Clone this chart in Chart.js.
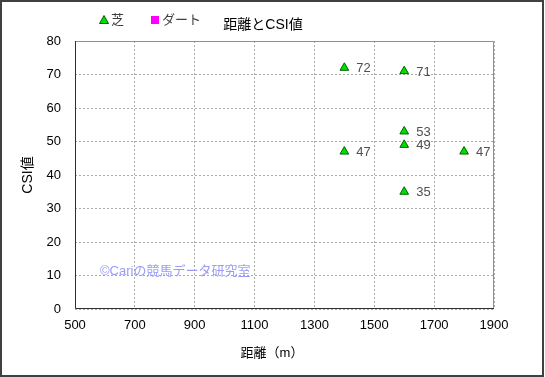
<!DOCTYPE html>
<html>
<head>
<meta charset="utf-8">
<script src="https://cdn.jsdelivr.net/npm/chart.js@4"></script>
<style>
  html, body { margin: 0; padding: 0; background: #fff; }
  canvas { display: block; }
</style>
</head>
<body>
<canvas id="myChart" width="545" height="377"></canvas>
<script>
// data
var distance = [1400, 1400, 1600, 1600, 1600, 1600, 1800];
var csi = [72, 47, 71, 53, 49, 35, 47];
var xTicks = [500, 700, 900, 1100, 1300, 1500, 1700, 1900];
var yTicks = [0, 10, 20, 30, 40, 50, 60, 70, 80];
var seriesNames = ["芝", "ダート"];

var FONT = "'Liberation Sans', 'Noto Sans CJK JP', sans-serif";

var turfPoints = distance.map(function (d, i) { return { x: d, y: csi[i] }; });

/*---------------extra drawing-------------------------- */
var decor = {
    id: 'decor',
    beforeDraw: function (chart) {
        var c = chart.ctx;
        c.save();
        c.fillStyle = '#fff';
        c.fillRect(0, 0, chart.width, chart.height);
        c.restore();
    },
    afterDatasetsDraw: function (chart) {
        var c = chart.ctx;
        var a = chart.chartArea;
        c.save();
        // plot frame: top/right gray, left/bottom dark
        c.lineWidth = 1;
        c.strokeStyle = '#909090';
        c.beginPath();
        c.moveTo(a.left, a.top + 0.5);
        c.lineTo(a.right - 0.5, a.top + 0.5);
        c.lineTo(a.right - 0.5, a.bottom);
        c.stroke();
        c.strokeStyle = '#303030';
        c.beginPath();
        c.moveTo(a.left + 0.5, a.top);
        c.lineTo(a.left + 0.5, a.bottom - 0.5);
        c.lineTo(a.right, a.bottom - 0.5);
        c.stroke();

        // value labels next to each point
        var meta = chart.getDatasetMeta(0);
        c.font = '13px ' + FONT;
        c.fillStyle = '#505050';
        c.textAlign = 'left';
        c.textBaseline = 'middle';
        meta.data.forEach(function (el, i) {
            c.fillText(String(csi[i]), el.x + 12, el.y + 1);
        });

        // watermark
        c.font = '13px ' + FONT;
        c.fillStyle = '#9c9cf4';
        c.fillText('©Cariの競馬データ研究室', 100, 271);

        // title
        c.font = '14px ' + FONT;
        c.fillStyle = '#000';
        c.textAlign = 'center';
        c.fillText('距離とCSI値', 263, 25);

        // x axis title
        c.font = '13px ' + FONT;
        c.fillText('距離（m）', 272, 353);

        // legend
        c.textAlign = 'left';
        var ds = chart.data.datasets;
        var lx = [104, 155];
        ds.forEach(function (d, i) {
            c.fillStyle = d.backgroundColor;
            c.strokeStyle = d.borderColor;
            if (d.pointStyle === 'triangle') {
                c.beginPath();
                c.moveTo(lx[i], 15.5);
                c.lineTo(lx[i] + 4.5, 23.5);
                c.lineTo(lx[i] - 4.5, 23.5);
                c.closePath();
                c.fill();
                c.stroke();
            } else {
                c.fillRect(lx[i] - 4, 16, 8, 8);
            }
            c.fillStyle = '#404040';
            c.font = '13px ' + FONT;
            c.fillText(d.label, lx[i] + 7, 20);
        });

        // outer frame
        c.strokeStyle = '#404040';
        c.lineWidth = 2;
        c.strokeRect(1, 1, chart.width - 3, chart.height - 2);
        c.restore();
    }
};

var ctx = document.getElementById('myChart').getContext('2d');
var chart = new Chart(ctx, {
    type: 'scatter',
    data: {
        datasets: [{
            label: seriesNames[0],
            data: turfPoints,
            pointStyle: 'triangle',
            pointRadius: 5,
            pointHoverRadius: 5,
            backgroundColor: '#00e000',
            borderColor: '#006000',
            borderWidth: 1
        },
        {
            label: seriesNames[1],
            data: [],
            pointStyle: 'rect',
            backgroundColor: '#ff00ff',
            borderColor: '#ff00ff'
        }]
    },
    options: {
        responsive: false,
        animation: false,
        devicePixelRatio: 1,
        layout: { padding: { left: 15, right: 51, top: 41, bottom: 0 } },
        plugins: {
            legend: { display: false },
            title: { display: false },
            tooltip: { enabled: false }
        },
        scales: {
            x: {
                type: 'linear',
                min: xTicks[0],
                max: xTicks[xTicks.length - 1],
                afterBuildTicks: function (s) { s.ticks = xTicks.map(function (v) { return { value: v }; }); },
                afterFit: function (s) { s.height = 68; },
                ticks: {
                    color: '#000', font: { size: 13, family: FONT }, padding: 9, maxRotation: 0,
                    callback: function (v) { return String(v); }
                },
                grid: { color: '#a8a8a8', drawTicks: false, lineWidth: 1 },
                border: { display: false, dash: [2, 2] }
            },
            y: {
                min: yTicks[0],
                max: yTicks[yTicks.length - 1],
                afterBuildTicks: function (s) { s.ticks = yTicks.map(function (v) { return { value: v }; }); },
                afterFit: function (s) { s.width = 60; },
                ticks: {
                    color: '#000', font: { size: 13, family: FONT }, padding: 14,
                    callback: function (v) { return String(v); }
                },
                grid: { color: '#a8a8a8', drawTicks: false, lineWidth: 1 },
                border: { display: false, dash: [2, 2] },
                title: { display: true, text: 'CSI値', color: '#000', font: { size: 14, family: FONT }, padding: { top: 5, bottom: 0 } }
            }
        }
    },
    plugins: [decor]
});
</script>
</body>
</html>
